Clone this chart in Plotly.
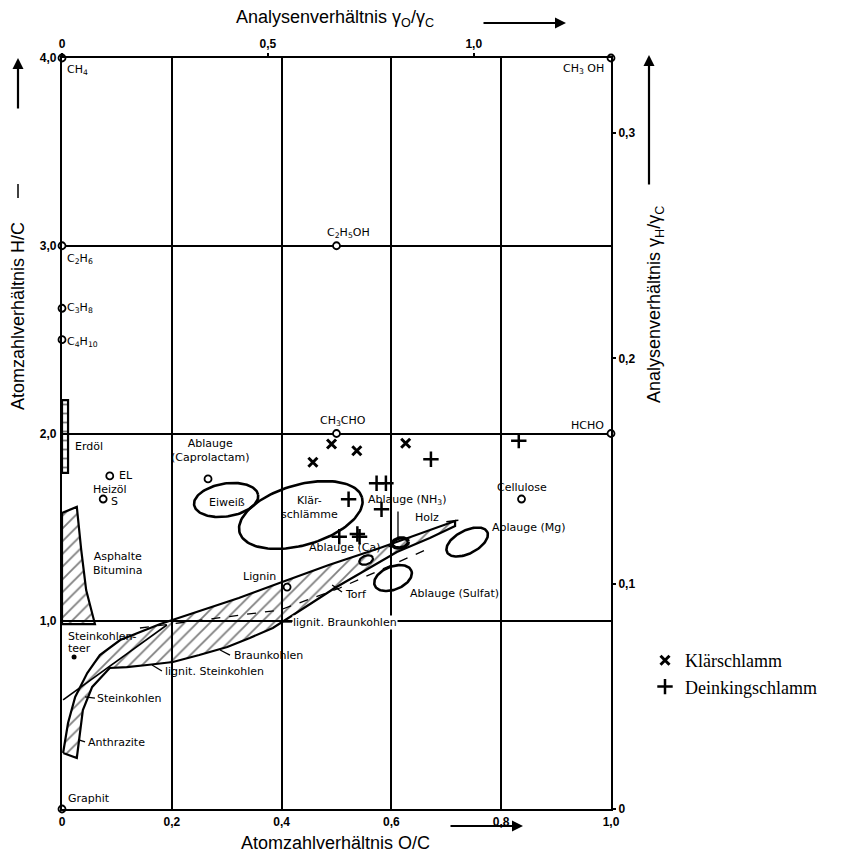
import numpy as np
import plotly.graph_objects as go

# ---------------- data (O/C, H/C) ----------------
klaer_oc = [0.491, 0.537, 0.457, 0.626]
klaer_hc = [1.944, 1.908, 1.847, 1.948]

dein_oc = [0.832, 0.672, 0.573, 0.590, 0.522, 0.582, 0.505, 0.538, 0.542, 1.015]
dein_hc = [1.962, 1.863, 1.735, 1.735, 1.650, 1.596, 1.450, 1.465, 1.450, 2.209]

ref_names = ["CH4", "C2H6", "C3H8", "C4H10", "CH3OH", "C2H5OH", "CH3CHO", "HCHO",
             "Graphit", "Cellulose", "Lignin", "Heizöl EL", "Heizöl S", "Ablauge (Caprolactam)"]
ref_oc = [0.0, 0.0, 0.0, 0.0, 1.0, 0.5, 0.5, 1.0, 0.0, 0.837, 0.41, 0.087, 0.075, 0.266]
ref_hc = [4.0, 3.0, 2.667, 2.5, 4.0, 3.0, 2.0, 2.0, 0.0, 1.651, 1.182, 1.774, 1.651, 1.758]

teer_oc = [0.022]
teer_hc = [0.81]

# areas (ellipses): name, centre O/C, centre H/C, semi-axes (O/C-equivalent), angle
ell_names = ["Eiweiß", "Klärschlämme", "Ablauge (Mg)", "Ablauge (Sulfat)", "Ablauge (Ca)", "Ablauge (NH3)"]
ell_cx = [0.299, 0.435, 0.738, 0.603, 0.554, 0.616]
ell_cy = [1.646, 1.566, 1.422, 1.230, 1.326, 1.417]
ell_a = [0.059, 0.116, 0.041, 0.036, 0.013, 0.015]
ell_b = [0.030, 0.055, 0.021, 0.021, 0.008, 0.009]
ell_ang = [9, 16, 27, 22, 20, 10]
ell_w = [2.6, 2.6, 2.6, 2.6, 2.2, 3.5]

# coal band outline
band_up_oc = [0.002, 0.011, 0.024, 0.046, 0.069, 0.106, 0.179, 0.250, 0.322, 0.401, 0.486, 0.579, 0.670, 0.716]
band_up_hc = [0.298, 0.458, 0.597, 0.724, 0.820, 0.900, 0.985, 1.055, 1.124, 1.209, 1.300, 1.390, 1.486, 1.534]
band_lo_oc = [0.716, 0.670, 0.610, 0.543, 0.497, 0.452, 0.401, 0.384, 0.342, 0.301, 0.250, 0.202, 0.155,
              0.118, 0.087, 0.055, 0.038, 0.033, 0.027]
band_lo_hc = [1.507, 1.443, 1.369, 1.257, 1.177, 1.092, 0.996, 0.964, 0.911, 0.863, 0.820, 0.783, 0.767,
              0.756, 0.751, 0.650, 0.527, 0.405, 0.272]
inner_oc = [0.142, 0.397, 0.506, 0.670]
inner_hc = [0.964, 1.060, 1.177, 1.390]
diag_oc = [0.002, 0.191]
diag_hc = [0.581, 0.980]

asph_oc = [0.0, 0.027, 0.035, 0.044, 0.060, 0.0]
asph_hc = [1.577, 1.609, 1.380, 1.166, 0.985, 0.985]

erdoel_oc = [0.0, 0.011, 0.011, 0.0]
erdoel_hc = [1.790, 1.790, 2.178, 2.178]

leader_oc = [0.288, 0.306, None, 0.164, 0.182, None, 0.042, 0.060, None, 0.029, 0.042, None,
             0.492, 0.510, None, 0.403, 0.419, None, 0.700, 0.722, None, 0.612, 0.612, None,
             0.595, 0.607]
leader_hc = [0.847, 0.820, None, 0.767, 0.735, None, 0.597, 0.591, None, 0.370, 0.357, None,
             1.193, 1.156, None, 0.996, 0.996, None, 1.530, 1.538, None, 1.585, 1.445, None,
             1.395, 1.425]

# ---------------- layout geometry ----------------
W, H = 855, 859
ML, MR, MT, MB = 62, 244, 58, 50
PW, PH = W - ML - MR, H - MT - MB
XR, YR = 1.0, 4.0
ratio = (PW / XR) / (PH / YR)

FONT = "Liberation Sans, Arial, sans-serif"
LFONT = "DejaVu Sans, Verdana, sans-serif"
fig = go.Figure()

def pfill(xs, ys, shape="/"):
    return go.Scatter(x=list(xs) + [xs[0]], y=list(ys) + [ys[0]], mode="lines", fill="toself",
                      fillcolor="rgba(0,0,0,0)",
                      fillpattern=dict(shape=shape, size=9, solidity=0.2, fgcolor="black",
                                       bgcolor="rgba(0,0,0,0)"),
                      line=dict(color="black", width=2.2), showlegend=False, hoverinfo="skip")

fig.add_trace(pfill(band_up_oc + band_lo_oc, band_up_hc + band_lo_hc))
fig.add_trace(pfill(asph_oc, asph_hc))
fig.add_trace(pfill(erdoel_oc, erdoel_hc, "-"))

fig.add_trace(go.Scatter(x=inner_oc, y=inner_hc, mode="lines", line=dict(color="black", width=1.3, dash="dash"),
                         showlegend=False, hoverinfo="skip"))
fig.add_trace(go.Scatter(x=diag_oc, y=diag_hc, mode="lines", line=dict(color="black", width=1.6),
                         showlegend=False, hoverinfo="skip"))
fig.add_trace(go.Scatter(x=leader_oc, y=leader_hc, mode="lines", line=dict(color="black", width=1.3),
                         showlegend=False, hoverinfo="skip", connectgaps=False))

t = np.linspace(0, 2 * np.pi, 120)
for cx, cy, a, b, ang, w in zip(ell_cx, ell_cy, ell_a, ell_b, ell_ang, ell_w):
    th = np.deg2rad(ang)
    ex = cx + a * np.cos(t) * np.cos(th) - b * np.sin(t) * np.sin(th)
    ey = cy + (a * np.cos(t) * np.sin(th) + b * np.sin(t) * np.cos(th)) * ratio
    fig.add_trace(go.Scatter(x=ex, y=ey, mode="lines", line=dict(color="black", width=w),
                             showlegend=False, hoverinfo="skip"))

fig.add_trace(go.Scatter(x=ref_oc, y=ref_hc, mode="markers", text=ref_names, cliponaxis=False,
                         marker=dict(symbol="circle", size=7, color="white", line=dict(color="black", width=1.8)),
                         showlegend=False))
fig.add_trace(go.Scatter(x=teer_oc, y=teer_hc, mode="markers", cliponaxis=False,
                         marker=dict(symbol="circle", size=5, color="black"), showlegend=False))

fig.add_trace(go.Scatter(x=klaer_oc, y=klaer_hc, mode="markers", name="Klärschlamm", cliponaxis=False,
                         marker=dict(symbol="x-thin", size=9, color="black", line=dict(color="black", width=3))))
fig.add_trace(go.Scatter(x=dein_oc, y=dein_hc, mode="markers", name="Deinkingschlamm", cliponaxis=False,
                         marker=dict(symbol="cross-thin", size=11, color="black", line=dict(color="black", width=2.5))))

# dummy trace for secondary axes
fig.add_trace(go.Scatter(x=[0], y=[0], xaxis="x2", yaxis="y2", mode="markers",
                         marker=dict(opacity=0), showlegend=False, hoverinfo="skip"))

# ---------------- labels ----------------
labels = [
    ("CH<sub>4</sub>", 0.005, 3.936, "left", "middle"),
    ("CH<sub>3</sub> OH", 0.991, 3.940, "right", "middle"),
    ("C<sub>2</sub>H<sub>6</sub>", 0.005, 2.930, "left", "middle"),
    ("C<sub>3</sub>H<sub>8</sub>", 0.006, 2.667, "left", "middle"),
    ("C<sub>4</sub>H<sub>10</sub>", 0.006, 2.490, "left", "middle"),
    ("C<sub>2</sub>H<sub>5</sub>OH", 0.521, 3.068, "center", "middle"),
    ("CH<sub>3</sub>CHO", 0.512, 2.065, "center", "middle"),
    ("HCHO", 0.991, 2.045, "right", "middle"),
    ("Erdöl", 0.020, 1.933, "left", "middle"),
    ("EL", 0.100, 1.778, "left", "middle"),
    ("Heizöl", 0.052, 1.704, "left", "middle"),
    ("S", 0.086, 1.640, "left", "middle"),
    ("Ablauge<br>(Caprolactam)", 0.270, 1.907, "center", "middle"),
    ("Eiweiß", 0.301, 1.630, "center", "middle"),
    ("Klär-<br>schlämme", 0.451, 1.605, "center", "middle"),
    ("Ablauge (NH<sub>3</sub>)", 0.553, 1.646, "left", "middle"),
    ("Holz", 0.665, 1.555, "center", "middle"),
    ("Ablauge (Ca)", 0.515, 1.395, "center", "middle"),
    ("Ablauge (Mg)", 0.780, 1.502, "left", "middle"),
    ("Cellulose", 0.838, 1.715, "center", "middle"),
    ("Lignin", 0.393, 1.236, "right", "middle"),
    ("Torf", 0.512, 1.140, "left", "middle"),
    ("Ablauge (Sulfat)", 0.630, 1.150, "left", "middle"),
    ("Asphalte<br>Bitumina", 0.053, 1.308, "left", "middle"),
    ("Steinkohlen-", 0.007, 0.918, "left", "middle"),
    ("teer", 0.007, 0.855, "left", "middle"),
    ("Braunkohlen", 0.310, 0.818, "left", "middle"),
    ("lignit. Steinkohlen", 0.184, 0.730, "left", "middle"),
    ("Steinkohlen", 0.060, 0.586, "left", "middle"),
    ("Anthrazite", 0.044, 0.352, "left", "middle"),
    ("Graphit", 0.007, 0.055, "left", "middle"),
]
LF = dict(family=LFONT, size=11, color="black")
for txt, x, y, xa, ya in labels:
    fig.add_annotation(x=x, y=y, text=txt, xanchor=xa, yanchor=ya, showarrow=False,
                       font=LF, align="center")
fig.add_annotation(x=0.419, y=0.996, text="lignit. Braunkohlen", xanchor="left", yanchor="middle",
                   showarrow=False, bgcolor="white", borderpad=0, font=LF)

def px2paper(px, py):
    return (px - ML) / PW, (H - MB - py) / PH

TF = dict(family=FONT, size=18, color="black")
def title(px, py, txt, angle=0):
    x, y = px2paper(px, py)
    fig.add_annotation(xref="paper", yref="paper", x=x, y=y, text=txt, showarrow=False, font=TF,
                       textangle=angle, xanchor="center", yanchor="middle")

def arrow(hx, hy, ax, ay):
    x, y = px2paper(hx, hy)
    fig.add_annotation(xref="paper", yref="paper", x=x, y=y, text="", showarrow=True, ax=ax, ay=ay,
                       arrowhead=2, arrowsize=1, arrowwidth=2.2, arrowcolor="black")

title(335, 19, "Analysenverhältnis γ<sub>O</sub>/γ<sub>C</sub>")
arrow(566, 23, -84, 0)
title(335, 843, "Atomzahlverhältnis O/C")
arrow(523, 826, -74, 0)
title(18, 316, "Atomzahlverhältnis H/C", -90)
arrow(18, 58, 0, 52)
x0, y0 = px2paper(18, 184)
x1, y1 = px2paper(18, 198)
fig.add_shape(type="line", xref="paper", yref="paper", x0=x0, y0=y0, x1=x1, y1=y1,
              line=dict(color="black", width=1.5))
title(655, 305, "Analysenverhältnis γ<sub>H</sub>/γ<sub>C</sub>", -90)
arrow(649, 55, 0, 131)

# ---------------- axes ----------------
TICKF = dict(family=FONT, size=12, color="black", weight="bold")
oc_ticks = [0, 0.2, 0.4, 0.6, 0.8, 1.0]
hc_ticks = [1, 2, 3, 4]
go_ticks = [0, 0.5, 1.0]
gh_ticks = [0, 0.1, 0.2, 0.3]
fmt = lambda v: ("%.1f" % v).replace(".", ",") if v != 0 else "0"

lx, ly = px2paper(645, 642)
fig.update_layout(
    width=W, height=H, margin=dict(l=ML, r=MR, t=MT, b=MB),
    plot_bgcolor="white", paper_bgcolor="white",
    xaxis=dict(range=[0, XR], tickvals=oc_ticks, ticktext=[fmt(v) for v in oc_ticks],
               showgrid=True, gridcolor="black", gridwidth=1.6, zeroline=False,
               showline=True, linecolor="black", linewidth=2.2, mirror=True, ticks="",
               tickfont=TICKF, fixedrange=True),
    yaxis=dict(range=[0, YR], tickvals=hc_ticks, ticktext=[fmt(v) for v in hc_ticks],
               showgrid=True, gridcolor="black", gridwidth=1.6, zeroline=False,
               showline=True, linecolor="black", linewidth=2.2, mirror=True, ticks="",
               tickfont=TICKF, ticklabelstandoff=1, fixedrange=True),
    xaxis2=dict(overlaying="x", side="top", anchor="y", range=[0, XR * 16 / 12],
                tickvals=go_ticks, ticktext=[fmt(v) for v in go_ticks], showgrid=False,
                zeroline=False, ticks="outside", ticklen=4, tickcolor="black", tickwidth=1.5,
                tickfont=TICKF, showline=False, fixedrange=True),
    yaxis2=dict(overlaying="y", side="right", anchor="x", range=[0, YR / 12],
                tickvals=gh_ticks, ticktext=[fmt(v) for v in gh_ticks], showgrid=False,
                zeroline=False, ticks="outside", ticklen=4, tickcolor="black", tickwidth=1.5,
                tickfont=TICKF, showline=False, fixedrange=True),
    legend=dict(x=lx, y=ly, xanchor="left", yanchor="top", bgcolor="rgba(0,0,0,0)",
                font=dict(family="Liberation Serif, Times New Roman, serif", size=18, color="black"),
                itemwidth=30, tracegroupgap=0),
    showlegend=True,
)

fig.write_html("out.html")
